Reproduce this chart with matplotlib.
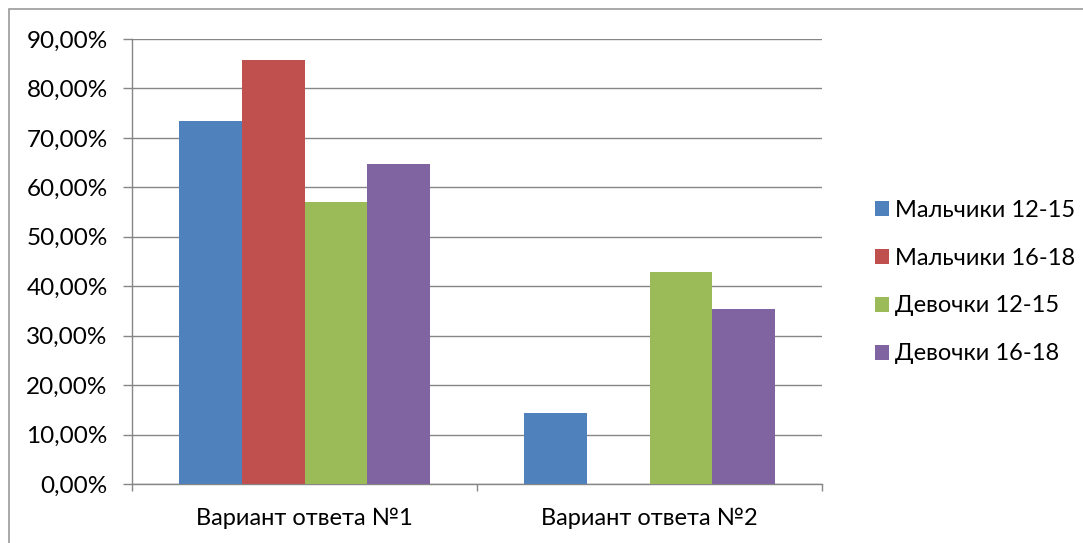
import matplotlib
matplotlib.use("Agg")
import matplotlib.pyplot as plt
import numpy as np
from matplotlib.patches import Rectangle
from matplotlib.ticker import FuncFormatter, FixedLocator

categories = ["Вариант ответа №1", "Вариант ответа №2"]
series = ["Мальчики 12-15", "Мальчики 16-18", "Девочки 12-15", "Девочки 16-18"]
boys_12_15 = [73.4, 14.3]
boys_16_18 = [85.8, 0.0]
girls_12_15 = [57.1, 42.9]
girls_16_18 = [64.8, 35.3]
colors = ["#4f81bd", "#c0504d", "#9bbb59", "#8064a2"]

plt.rcParams['font.family'] = ['Lato', 'DejaVu Sans']

fig = plt.figure(figsize=(10.83, 5.43), dpi=100)
ax = fig.add_axes([132/1083, 1 - 484/543, (822-132)/1083, (484-39)/543])

# outer chart border
fig.patches.append(Rectangle((9/1083, -0.1), 1.2, 1 - 9/543 + 0.1, transform=fig.transFigure,
                             fill=False, edgecolor="#9a9a9a", linewidth=1.2))

x = np.arange(len(categories))
w = 1 / 5.5
all_vals = [boys_12_15, boys_16_18, girls_12_15, girls_16_18]
for i, (vals, name) in enumerate(zip(all_vals, series)):
    ax.bar(x + (i - 1.5) * w, vals, width=w, color=colors[i], label=name, zorder=3)

ax.set_xlim(-0.5, 1.5)
ax.set_ylim(0, 90)
ax.set_yticks(np.arange(0, 91, 10))
ax.yaxis.set_major_formatter(FuncFormatter(lambda v, p: f"{v:.2f}%".replace(".", ",")))
ax.grid(axis="y", color="#868686", linewidth=1.0, zorder=0)

ax.xaxis.set_major_locator(FixedLocator([-0.5, 0.5, 1.5]))
ax.xaxis.set_major_formatter(FuncFormatter(lambda v, p: ""))
ax.xaxis.set_minor_locator(FixedLocator(x))
ax.set_xticklabels(categories, minor=True)
ax.tick_params(axis="x", which="minor", length=0, pad=17, labelsize=17)
ax.tick_params(axis="x", which="major", length=5, color="#868686", width=1)
ax.tick_params(axis="y", length=6.5, color="#868686", width=1, labelsize=17.5, pad=11)

for s in ["top", "right"]:
    ax.spines[s].set_visible(False)
for s in ["left", "bottom"]:
    ax.spines[s].set_color("#868686")
    ax.spines[s].set_linewidth(1.0)

leg = fig.legend(loc="center left", bbox_to_anchor=(858/1083, 1 - 282/543), frameon=False,
                 fontsize=17, handlelength=0.6, handleheight=0.6, handletextpad=0.25,
                 labelspacing=1.14, borderpad=0.2)

fig.savefig("out.png", dpi=100)
